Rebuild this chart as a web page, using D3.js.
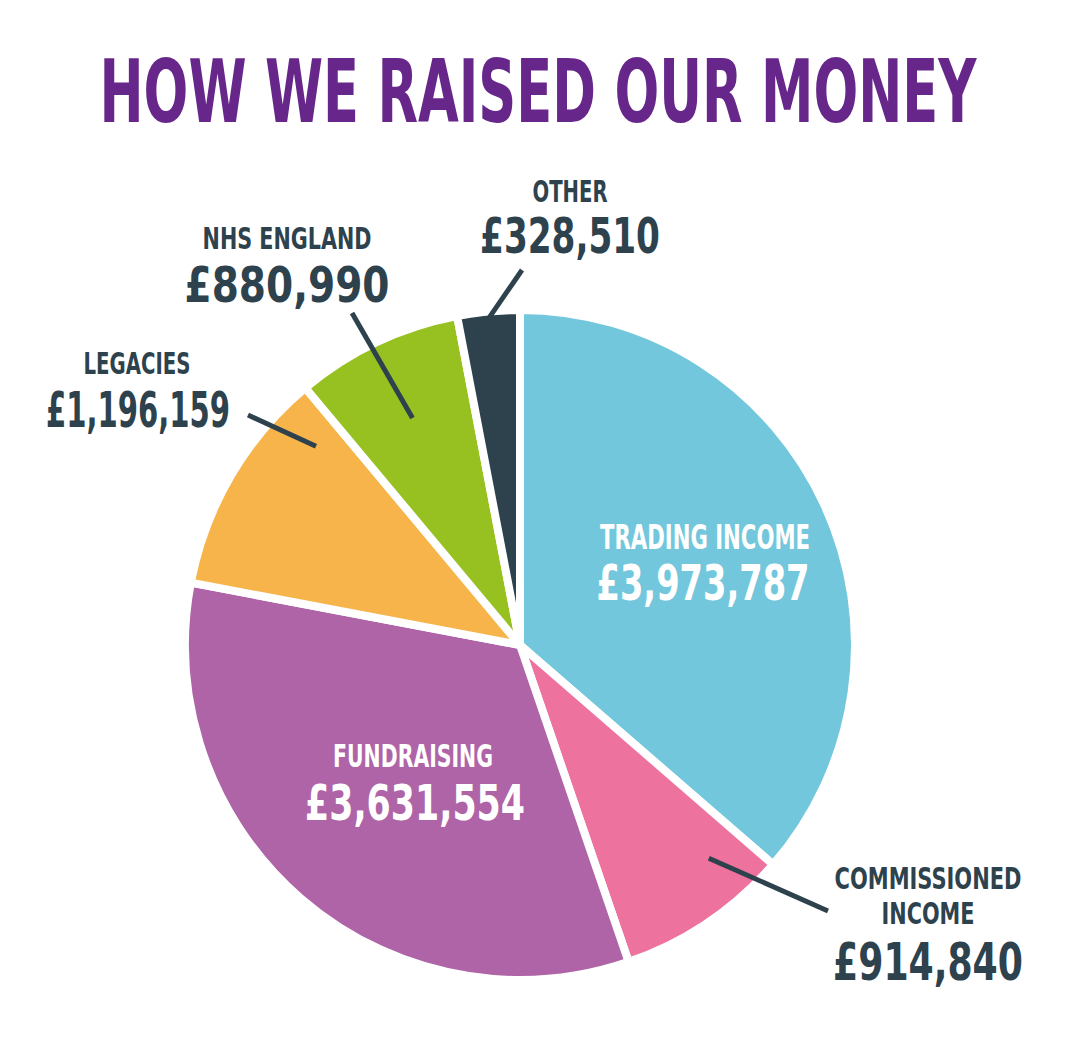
<!DOCTYPE html>
<html>
<head>
<meta charset="utf-8">
<script src="https://cdn.jsdelivr.net/npm/d3@7"></script>
<style>
  html, body { margin: 0; padding: 0; background: #ffffff; }
  svg { display: block; }
  text { font-family: "Liberation Sans Narrow", "DejaVu Sans Condensed", "Liberation Sans", sans-serif; font-weight: bold; }
</style>
</head>
<body>
<svg id="chart" width="1076" height="1053"></svg>
<script>
// ---- data ----
const categories = ["TRADING INCOME", "COMMISSIONED INCOME", "FUNDRAISING", "LEGACIES", "NHS ENGLAND", "OTHER"];
const values = [3973787, 914840, 3631554, 1196159, 880990, 328510];
const colors = ["#73C7DC", "#EE729E", "#AE64A6", "#F6B44B", "#97C120", "#2E424D"];
const title = "HOW WE RAISED OUR MONEY";

// ---- layout ----
const cx = 520, cy = 645, R = 335;
const dark = "#2E424D";
const svg = d3.select("#chart");

// draws a centred text squeezed horizontally to a target width (condensed look)
function fitText(parent, str, x, y, fs, w, fill) {
  const g = parent.append("g");
  const t = g.append("text")
    .attr("x", 0).attr("y", 0)
    .attr("text-anchor", "middle")
    .attr("fill", fill)
    .attr("font-size", fs)
    .text(str);
  const nat = t.node().getComputedTextLength() || w;
  g.attr("transform", `translate(${x},${y}) scale(${w / nat},1)`);
  return g;
}

fitText(svg, title, 538, 122, 88, 877, "#67278A");

const data = categories.map((c, i) => ({ name: c, value: values[i], color: colors[i] }));
const pie = d3.pie().sort(null).value(d => d.value);
const arcs = pie(data);
const arc = d3.arc().innerRadius(0).outerRadius(R);

const g = svg.append("g").attr("transform", `translate(${cx},${cy})`);
g.selectAll("path.slice")
  .data(arcs)
  .join("path")
  .attr("class", "slice")
  .attr("d", arc)
  .attr("fill", d => d.data.color)
  .attr("stroke", "#ffffff")
  .attr("stroke-width", 8)
  .attr("stroke-linejoin", "round");

const fmt = v => "£" + d3.format(",")(v);

// label layout per category
const labelLayout = {
  "TRADING INCOME": { fill: "#ffffff", lines: [
      { t: "TRADING INCOME", x: 705, y: 549, fs: 34, w: 210 },
      { t: "VALUE", x: 703, y: 600, fs: 50, w: 213 }] },
  "COMMISSIONED INCOME": { fill: dark, lines: [
      { t: "COMMISSIONED", x: 928, y: 889, fs: 30, w: 187 },
      { t: "INCOME", x: 928, y: 924, fs: 30, w: 93 },
      { t: "VALUE", x: 928, y: 980, fs: 51, w: 190 }],
      leader: { x: 828, y: 911, f: 0.25, r: 0.85 } },
  "FUNDRAISING": { fill: "#ffffff", lines: [
      { t: "FUNDRAISING", x: 413, y: 767, fs: 32, w: 160 },
      { t: "VALUE", x: 415, y: 820, fs: 50, w: 220 }] },
  "LEGACIES": { fill: dark, lines: [
      { t: "LEGACIES", x: 137, y: 374, fs: 30, w: 107 },
      { t: "VALUE", x: 138, y: 427, fs: 50, w: 184 }],
      leader: { x: 248, y: 415, f: 0.85, r: 0.85 } },
  "NHS ENGLAND": { fill: dark, lines: [
      { t: "NHS ENGLAND", x: 287, y: 249, fs: 30, w: 169 },
      { t: "VALUE", x: 287, y: 302, fs: 50, w: 205 }],
      leader: { x: 352, y: 313, f: 0.5, r: 0.75 } },
  "OTHER": { fill: dark, lines: [
      { t: "OTHER", x: 570, y: 202, fs: 30, w: 75 },
      { t: "VALUE", x: 570, y: 253, fs: 49, w: 180 }],
      leader: { x: 522, y: 270, f: 0.45, r: 0.97 } }
};

arcs.forEach(a => {
  const L = labelLayout[a.data.name];
  if (L.leader) {
    const ang = a.startAngle + L.leader.f * (a.endAngle - a.startAngle);
    const rr = R * L.leader.r;
    const px = cx + rr * Math.sin(ang), py = cy - rr * Math.cos(ang);
    svg.append("line")
      .attr("x1", L.leader.x).attr("y1", L.leader.y)
      .attr("x2", px).attr("y2", py)
      .attr("stroke", dark).attr("stroke-width", 5);
  }
  L.lines.forEach(ln => {
    fitText(svg, ln.t === "VALUE" ? fmt(a.data.value) : ln.t, ln.x, ln.y, ln.fs, ln.w, L.fill);
  });
});
</script>
</body>
</html>
